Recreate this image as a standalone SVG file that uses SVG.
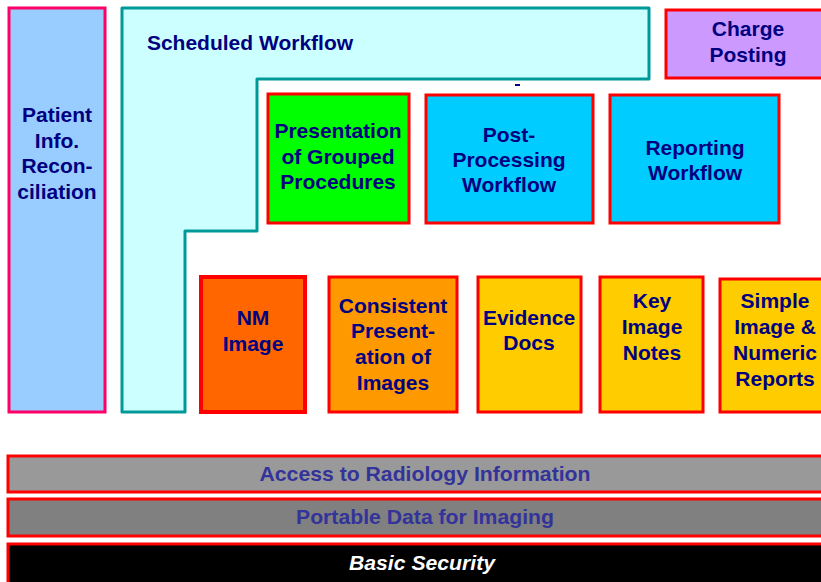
<svg xmlns="http://www.w3.org/2000/svg" width="821" height="582" viewBox="0 0 821 582">
<style>
.t{font-family:"Liberation Sans",Arial,sans-serif;font-weight:bold;font-size:21px;fill:#000080;text-anchor:middle}
.b{stroke:#FF0000;stroke-width:3}
.bar{font-family:"Liberation Sans",Arial,sans-serif;font-weight:bold;font-size:21px;fill:#333399;text-anchor:middle}
</style>
<rect width="821" height="582" fill="#FFFFFF"/>
<g id="patient-info">
<rect x="9" y="8" width="96" height="404" fill="#99CCFF" stroke="#FF0066" stroke-width="3"/>
<text class="t" x="57" y="122">Patient</text>
<text class="t" x="57" y="148">Info.</text>
<text class="t" x="57" y="173">Recon-</text>
<text class="t" x="57" y="199">ciliation</text>
</g>
<g id="scheduled-workflow">
<path d="M122,8 H649 V79 H257 V231 H185 V412 H122 Z" fill="#CCFFFF" stroke="#009999" stroke-width="3" stroke-linejoin="round"/>
<text class="t" x="250" y="50">Scheduled Workflow</text>
<rect x="515" y="84" width="5" height="2" fill="#000080"/>
</g>
<g id="charge-posting">
<rect x="666" y="10" width="157" height="68" fill="#CC99FF" class="b"/>
<text class="t" x="748" y="36">Charge</text>
<text class="t" x="748" y="62">Posting</text>
</g>
<g id="grouped-procedures">
<rect x="268" y="94" width="141" height="129" fill="#00FF00" class="b"/>
<text class="t" x="338" y="138">Presentation</text>
<text class="t" x="338" y="164">of Grouped</text>
<text class="t" x="338" y="189">Procedures</text>
</g>
<g id="post-processing">
<rect x="426" y="95" width="167" height="128" fill="#00CCFF" class="b"/>
<text class="t" x="509" y="142">Post-</text>
<text class="t" x="509" y="167">Processing</text>
<text class="t" x="509" y="192">Workflow</text>
</g>
<g id="reporting-workflow">
<rect x="610" y="95" width="169" height="128" fill="#00CCFF" class="b"/>
<text class="t" x="695" y="155">Reporting</text>
<text class="t" x="695" y="180">Workflow</text>
</g>
<g id="nm-image">
<rect x="201" y="277" width="104" height="135" fill="#FF6600" stroke="#FF0000" stroke-width="4"/>
<text class="t" x="253" y="325">NM</text>
<text class="t" x="253" y="351">Image</text>
</g>
<g id="consistent-presentation">
<rect x="329" y="277" width="128" height="135" fill="#FF9900" class="b"/>
<text class="t" x="393" y="313">Consistent</text>
<text class="t" x="393" y="338">Present-</text>
<text class="t" x="393" y="364">ation of</text>
<text class="t" x="393" y="390">Images</text>
</g>
<g id="evidence-docs">
<rect x="478" y="277" width="103" height="135" fill="#FFCC00" class="b"/>
<text class="t" x="529" y="325">Evidence</text>
<text class="t" x="529" y="350">Docs</text>
</g>
<g id="key-image-notes">
<rect x="600" y="277" width="103" height="135" fill="#FFCC00" class="b"/>
<text class="t" x="652" y="308">Key</text>
<text class="t" x="652" y="334">Image</text>
<text class="t" x="652" y="360">Notes</text>
</g>
<g id="simple-image-reports">
<rect x="720" y="279" width="103" height="133" fill="#FFCC00" class="b"/>
<text class="t" x="775" y="308">Simple</text>
<text class="t" x="775" y="334">Image &amp;</text>
<text class="t" x="775" y="360">Numeric</text>
<text class="t" x="775" y="386">Reports</text>
</g>
<g id="access-radiology">
<rect x="8" y="456" width="815" height="36" fill="#999999" class="b"/>
<text class="bar" x="425" y="481" textLength="331" lengthAdjust="spacingAndGlyphs">Access to Radiology Information</text>
</g>
<g id="portable-data">
<rect x="8" y="499" width="815" height="37" fill="#808080" class="b"/>
<text class="bar" x="425" y="524" textLength="258" lengthAdjust="spacingAndGlyphs">Portable Data for Imaging</text>
</g>
<g id="basic-security">
<rect x="8" y="544" width="815" height="40" fill="#000000" class="b"/>
<text class="bar" x="422" y="570" style="fill:#FFFFFF;font-style:italic" textLength="146" lengthAdjust="spacingAndGlyphs">Basic Security</text>
</g>
<g id="connectors"></g>
</svg>
